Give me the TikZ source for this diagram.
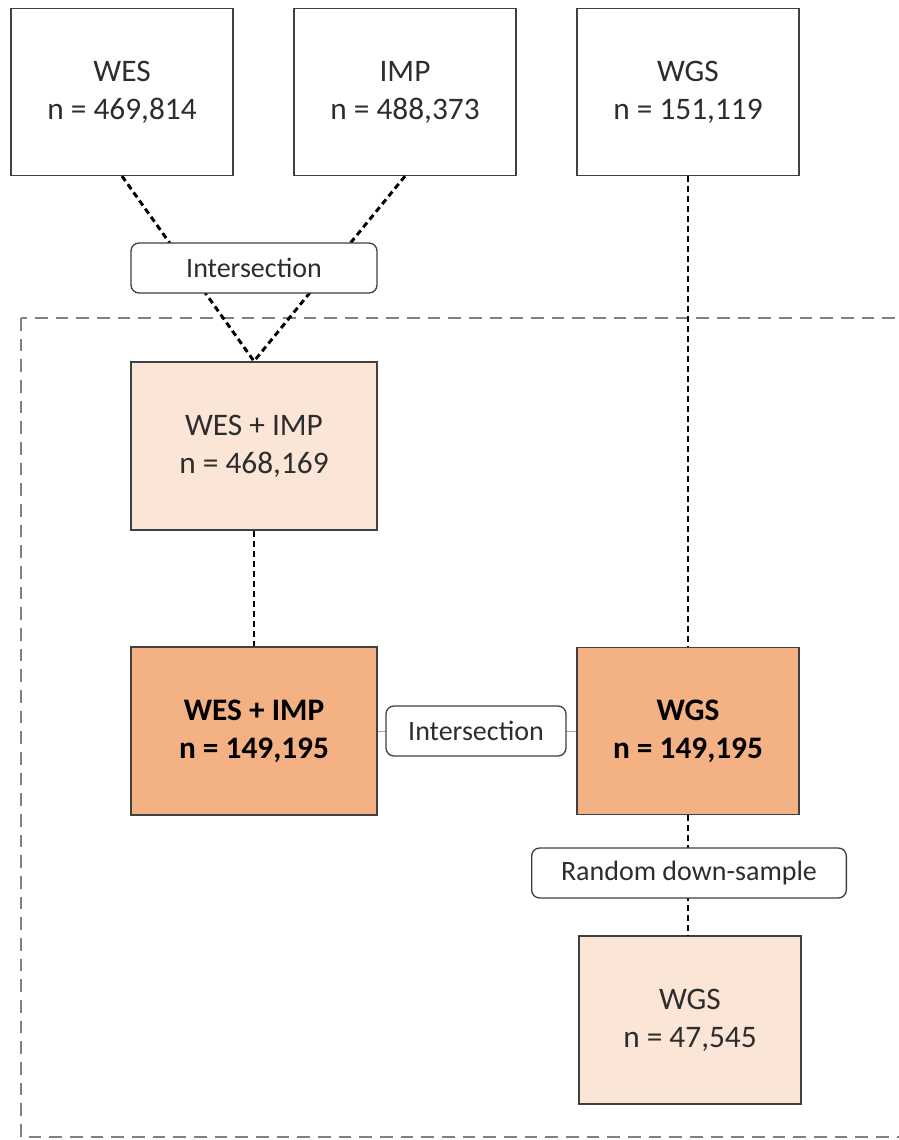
\documentclass[tikz,border=0pt]{standalone}
\usepackage{fontspec}
\setmainfont{Carlito}
\usepackage{tikz}
\tikzset{every picture/.style={line width=0.75pt}}
\definecolor{peachlight}{RGB}{251,229,214}
\definecolor{peachdark}{RGB}{244,177,131}
\definecolor{boxline}{RGB}{64,64,64}
\definecolor{txtgray}{RGB}{45,45,45}
\tikzset{
  cohort/.style={draw=boxline, line width=1.2pt, align=center, text=txtgray,
    minimum width=166.5pt, minimum height=125pt, inner sep=0pt,
    font=\fontsize{23.5}{28.5}\selectfont},
  widecohort/.style={cohort, minimum width=184.5pt, minimum height=126pt},
  pill/.style={draw=boxline, fill=white, rounded corners=6pt, line width=1pt,
    text=txtgray, minimum height=37.5pt, inner sep=0pt,
    font=\fontsize{21}{24}\selectfont},
  link/.style={draw=black, line width=2.2pt, dash pattern=on 4.5pt off 3pt},
  thinlink/.style={draw=gray!70, line width=0.6pt},
}

\begin{document}
\begin{tikzpicture}[x=0.75pt,y=0.75pt,yscale=-1,xscale=1]
\useasboundingbox (0,0) rectangle (899,1140);
% study frame
\draw [color=gray, line width=2.2pt, dash pattern=on 9.5pt off 6pt] (21,318) rectangle (910,1137);

% source cohorts
\node [cohort] (wes) at (122,92) {WES\\n = 469,814};
\node [cohort] (imp) at (405,92) {IMP\\n = 488,373};
\node [cohort] (wgs) at (688,92) {WGS\\n = 151,119};

% merged / matched cohorts
\node [widecohort, fill=peachlight] (wesimp) at (254,446) {WES + IMP\\n = 468,169};
\node [widecohort, fill=peachdark, text=black, font=\fontsize{23.5}{28.5}\selectfont\bfseries] (wesimpm) at (254,731) {WES + IMP\\n = 149,195};
\node [cohort, fill=peachdark, text=black, font=\fontsize{23.5}{28.5}\selectfont\bfseries] (wgsm) at (688,731) {WGS\\n = 149,195};
\node [cohort, fill=peachlight, minimum height=126pt] (wgsds) at (690,1020) {WGS\\n = 47,545};

% connectors
\draw [link] (wes.south) -- (wesimp.north);
\draw [link] (imp.south) -- (wesimp.north);
\draw [link] (wesimp.south) -- (wesimpm.north);
\draw [link] (wgs.south) -- (wgsm.north);
\draw [link] (wgsm.south) -- (wgsds.north -| wgsm.south);
\draw [thinlink] (wesimpm.east) -- (wgsm.west);

% operations
\node [pill, minimum width=184.5pt] (isecta) at (254,268) {Intersection};
\node [pill, minimum width=135pt] (isectb) at (476,731) {Intersection};
\node [pill, minimum width=236pt] (downs) at (689,873) {Random down-sample};
\end{tikzpicture}
\end{document}
